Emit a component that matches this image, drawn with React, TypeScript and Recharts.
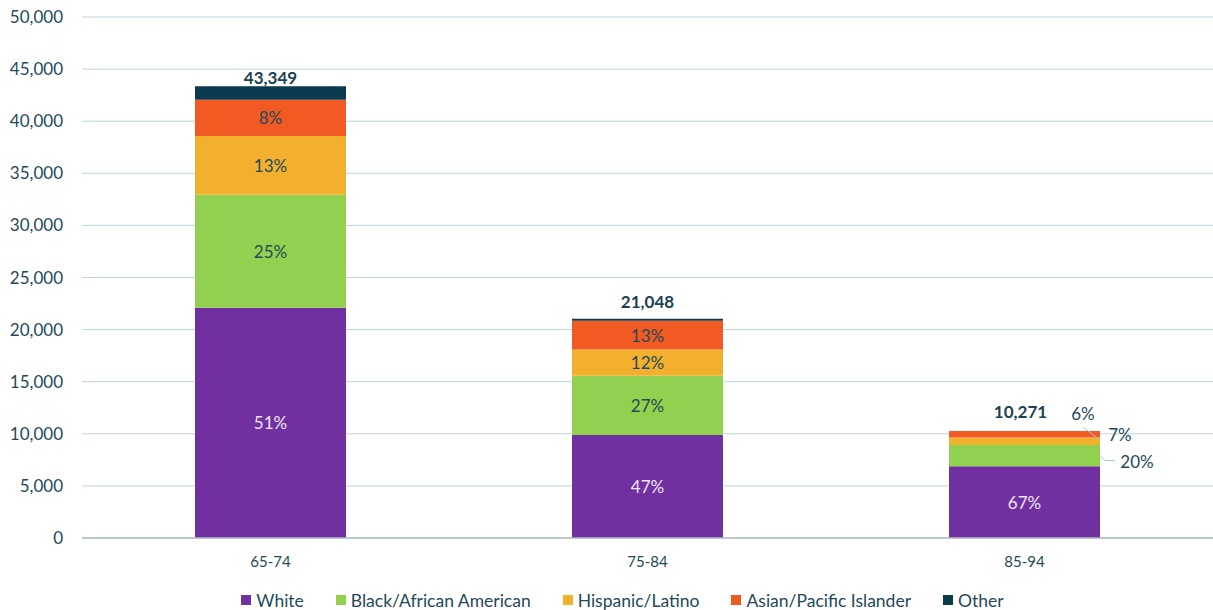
import { Bar, BarChart, CartesianGrid, LabelList, Legend, XAxis, YAxis } from 'recharts';

const categories = ['65-74', '75-84', '85-94'];
const white = [22108, 9893, 6882];
const black = [10837, 5683, 2054];
const hispanic = [5635, 2526, 719];
const asian = [3468, 2736, 616];
const other = [1301, 210, 0];
const yTicks = [0, 5000, 10000, 15000, 20000, 25000, 30000, 35000, 40000, 45000, 50000];

const totals = categories.map((_, i) => white[i] + black[i] + hispanic[i] + asian[i] + other[i]);

const data = categories.map((age, i) => ({
  age,
  white: white[i],
  black: black[i],
  hispanic: hispanic[i],
  asian: asian[i],
  other: other[i],
}));

const series = [
  { key: 'white', name: 'White', color: '#7030A0', values: white },
  { key: 'black', name: 'Black/African American', color: '#92D050', values: black },
  { key: 'hispanic', name: 'Hispanic/Latino', color: '#F3B02F', values: hispanic },
  { key: 'asian', name: 'Asian/Pacific Islander', color: '#F15A22', values: asian },
  { key: 'other', name: 'Other', color: '#0B3A4F', values: other },
];

const TEXT = '#24495A';
const FONT = 'Lato, "Open Sans", sans-serif';

// where small segments put their label when it does not fit inside the bar
const outside: Record<string, { dx: number; dy: number; line: number[][] }> = {
  asian: { dx: -17, dy: -21, line: [[-17, -7], [0, 6]] },
  hispanic: { dx: 20, dy: -7, line: [] },
  black: { dx: 37, dy: 6, line: [[0, 0], [5, 5], [15, 5]] },
};

function totalText(cx: number, top: number, index: number) {
  return (
    <text x={cx} y={top - 13} textAnchor="middle" dominantBaseline="central"
      fill="#1B4152" fontSize={17} fontWeight={700} fontFamily={FONT}>
      {totals[index].toLocaleString('en-US')}
    </text>
  );
}

function pctLabel(key: string, values: number[], light: boolean) {
  return (props: any) => {
    const { x, y, width, height, index } = props;
    const v = values[index];
    if (!v) return null;
    const pct = Math.round((v / totals[index]) * 100) + '%';
    // the "Other" bar has no height here, so the total goes on top of this one
    const total = key === 'asian' && !other[index] ? totalText(x + width / 2 - 4, y - 6, index) : null;
    if (height < 24 && outside[key]) {
      const o = outside[key];
      const right = x + width;
      const mid = y + height / 2;
      return (
        <g>
          {total}
          {o.line.length > 0 && (
            <polyline
              points={o.line.map(([a, b]) => `${right + a},${mid + b}`).join(' ')}
              fill="none"
              stroke="#9CC6D6"
              strokeWidth={1}
            />
          )}
          <text x={right + o.dx} y={mid + o.dy} textAnchor="middle" dominantBaseline="central"
            fill={TEXT} fontSize={17} fontFamily={FONT}>
            {pct}
          </text>
        </g>
      );
    }
    return (
      <g>
        {total}
        <text x={x + width / 2} y={y + height / 2} textAnchor="middle" dominantBaseline="central"
          fill={light ? '#EEE6F4' : TEXT} fontSize={17} fontFamily={FONT}>
          {pct}
        </text>
      </g>
    );
  };
}

function TotalLabel(props: any) {
  const { x, y, width, index } = props;
  if (!other[index]) return null;
  return totalText(x + width / 2, y + (index === 0 ? 4 : -4), index);
}

function LegendContent() {
  return (
    <div style={{ display: 'flex', justifyContent: 'center', alignItems: 'center', height: 30, paddingTop: 10, paddingLeft: 32, boxSizing: 'border-box', fontFamily: FONT, fontSize: 17.5, color: TEXT }}>
      {series.map((s, i) => (
        <div key={s.key} style={{ display: 'flex', alignItems: 'center', marginLeft: i === 0 ? 0 : 32 }}>
          <span style={{ width: 10, height: 10, background: s.color, display: 'inline-block', marginRight: 5 }} />
          <span>{s.name}</span>
        </div>
      ))}
    </div>
  );
}

export default function App() {
  return (
    <div style={{ position: 'absolute', left: 0, top: 0, width: 1213, height: 610, background: '#fff' }}>
      <BarChart width={1213} height={610} data={data} margin={{ top: 17, right: 0, bottom: 0, left: 0 }} barSize={151}>
        <CartesianGrid vertical={false} stroke="#BFD4DC" strokeWidth={1} />
        <XAxis
          dataKey="age"
          height={42}
          tickLine={false}
          tickSize={6}
          tickMargin={12}
          axisLine={{ stroke: '#AFBCC2', strokeWidth: 1.5 }}
          tick={{ fill: TEXT, fontSize: 15, fontFamily: FONT }}
        />
        <YAxis
          width={82}
          domain={[0, 50000]}
          ticks={yTicks}
          interval={0}
          axisLine={false}
          tickLine={false}
          tickSize={6}
          tickMargin={13}
          tickFormatter={(v: number) => v.toLocaleString('en-US')}
          tick={{ fill: TEXT, fontSize: 17, fontFamily: FONT }}
        />
        <Legend verticalAlign="bottom" height={30} content={<LegendContent />} />
        {series.map((s) => (
          <Bar key={s.key} dataKey={s.key} name={s.name} stackId="a" fill={s.color} isAnimationActive={false}>
            {s.key !== 'other' && <LabelList dataKey={s.key} content={pctLabel(s.key, s.values, s.key === 'white')} />}
            {s.key === 'other' && <LabelList dataKey={s.key} content={TotalLabel} />}
          </Bar>
        ))}
      </BarChart>
    </div>
  );
}
